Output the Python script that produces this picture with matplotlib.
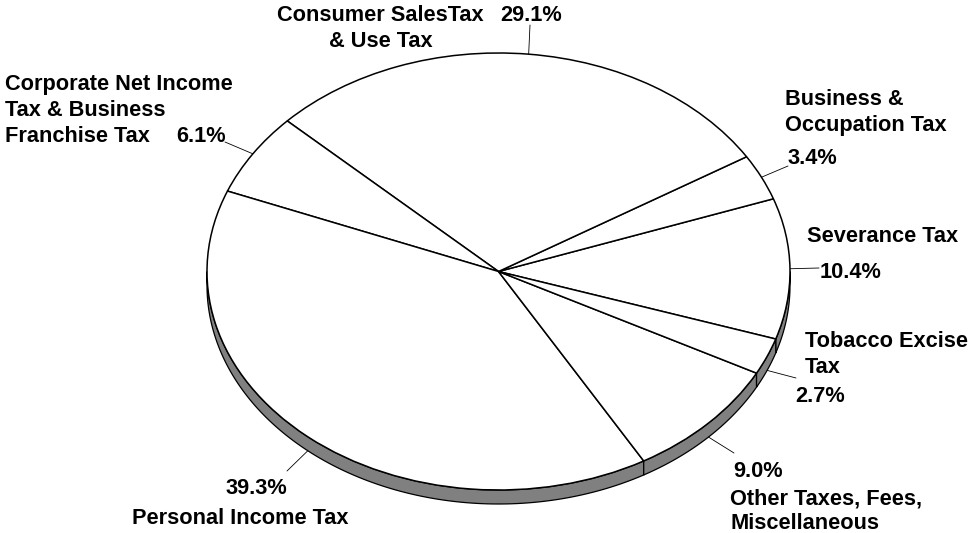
import numpy as np
import matplotlib
matplotlib.use("Agg")
import matplotlib.pyplot as plt

# order is counter clockwise, starting at the severance slice
categorias = ["Severance", "Business", "Consumer", "Corporate", "Personal", "Other", "Tobacco"]
porcentajes = [10.4, 3.4, 29.1, 6.1, 39.3, 9.0, 2.7]

# text lines: (text, left px, baseline px)
textos = [
    ("Consumer SalesTax", 277, 21),
    ("29.1%", 500, 21),
    ("& Use Tax", 329, 47),
    ("Corporate Net Income", 5, 90),
    ("Tax & Business", 5, 116),
    ("Franchise Tax", 5, 142),
    ("6.1%", 176, 142),
    ("Business &", 785, 105),
    ("Occupation Tax", 785, 131),
    ("3.4%", 788, 164),
    ("Severance Tax", 807, 242),
    ("10.4%", 820, 278),
    ("Tobacco Excise", 805, 347),
    ("Tax", 805, 373),
    ("2.7%", 795, 402),
    ("9.0%", 733, 477),
    ("Other Taxes, Fees,", 730, 505),
    ("Miscellaneous", 730, 529),
    ("39.3%", 226, 494),
    ("Personal Income Tax", 132, 524),
]

# outer end of each leader line, in px, same order as categorias
guias = [(819, 268), (788, 166), (530, 25), (225, 142), (287, 471), (734, 453), (796, 378)]

ANCHO, ALTO = 968, 533
IZQ, DER, ARRIBA, ABAJO = 207, 790, 53, 490
GROSOR = 14 / ((ABAJO - ARRIBA) / 2)  # wall height in axes units
INICIO = -18.0

plt.rcParams["font.family"] = ["Liberation Sans", "DejaVu Sans"]
fig = plt.figure(figsize=(ANCHO / 100, ALTO / 100), dpi=100)
ax = fig.add_axes([IZQ / ANCHO, (ALTO - ABAJO) / ALTO, (DER - IZQ) / ANCHO, (ABAJO - ARRIBA) / ALTO])

# top face
cuñas, _ = ax.pie(porcentajes, startangle=INICIO, counterclock=True, radius=1,
                  colors=["white"] * len(porcentajes),
                  wedgeprops=dict(edgecolor="black", linewidth=1.1, clip_on=False, zorder=3))
ax.set_xlim(-1, 1)
ax.set_ylim(-1, 1)
ax.set_aspect("auto")
ax.set_axis_off()

angulos = INICIO + np.cumsum([0] + porcentajes) * 3.6

# side wall, only the part of each slice in the lower half
for i in range(len(porcentajes)):
    a0 = angulos[i] % 360
    a1 = a0 + porcentajes[i] * 3.6
    for desde, hasta in [(a0, a1), (a0 - 360, a1 - 360)]:
        desde = max(desde, 180)
        hasta = min(hasta, 360)
        if hasta <= desde:
            continue
        t = np.radians(np.linspace(desde, hasta, 120))
        x = np.cos(t)
        y = np.sin(t)
        ax.fill(np.r_[x, x[::-1]], np.r_[y, y[::-1] - GROSOR], facecolor="#808080",
                edgecolor="black", linewidth=0.9, clip_on=False, zorder=2)

# leader lines from the middle of each slice
medios = np.radians((angulos[:-1] + angulos[1:]) / 2)
for m, (gx, gy) in zip(medios, guias):
    x = np.cos(m)
    y = np.sin(m)
    if y < 0:
        y = y - GROSOR
    ax.annotate("", xy=(x, y), xycoords="data",
                xytext=(gx / ANCHO, 1 - gy / ALTO), textcoords="figure fraction",
                arrowprops=dict(arrowstyle="-", color="black", linewidth=0.6,
                                shrinkA=0, shrinkB=0), zorder=1)

for texto, px, py in textos:
    fig.text(px / ANCHO, 1 - py / ALTO, texto, fontsize=15.7, fontweight="bold",
             ha="left", va="baseline", color="black")

fig.savefig("out.png", dpi=100, facecolor="white")
